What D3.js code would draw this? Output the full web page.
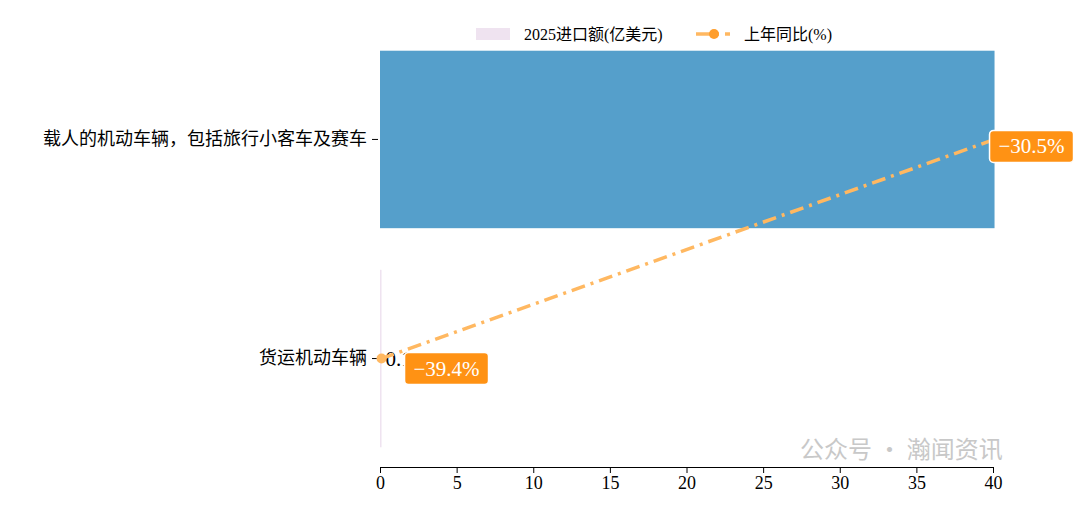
<!DOCTYPE html><html><head><meta charset="utf-8"><script src="https://cdn.jsdelivr.net/npm/d3@7"></script>
<style>body{margin:0;background:#fff}text{font-family:"Liberation Serif","Noto Sans CJK SC",serif}</style></head><body><svg id="c" width="1080" height="519"></svg><script>
const categories=["载人的机动车辆，包括旅行小客车及赛车","货运机动车辆"];
const values=[40.1,0.1];
const yoy=[-30.5,-39.4];
const valueLabels=["40.1","0.1"];
const ticks=[0,5,10,15,20,25,30,35,40];
const svg=d3.select("#c");
const x=d3.scaleLinear().domain([0,40]).range([380,993]);
const y=d3.scaleBand().domain(categories).range([31,467]).paddingInner(0.19).paddingOuter(0.09);
const colors=["#559fcb","#efe3f0"];
svg.selectAll("rect.bar").data(values).join("rect").attr("class","bar")
 .attr("x",x(0)).attr("y",(d,i)=>y(categories[i])).attr("width",d=>x(d)-x(0)).attr("height",y.bandwidth()).attr("fill",(d,i)=>colors[i]);
const xa=svg.append("g").attr("transform","translate(0,467)").call(d3.axisBottom(x).tickValues(ticks).tickSize(6));
xa.select(".domain").attr("stroke","#000");xa.selectAll("text").attr("font-size",18).attr("fill","#000");
const ya=svg.append("g").attr("transform","translate(378,0)").call(d3.axisLeft(y).tickSize(6).tickPadding(5));
ya.select(".domain").remove();ya.selectAll("text").attr("font-size",18).attr("fill","#000");
svg.selectAll("text.vl").data(values).join("text").attr("class","vl").attr("x",d=>x(d)+4).attr("y",(d,i)=>y(categories[i])+y.bandwidth()/2+7)
 .attr("font-size",(d,i)=>i==0?15:21).attr("fill",(d,i)=>i==0?"#888":"#000").text((d,i)=>valueLabels[i]);
const pts=values.map((v,i)=>[x(v),y(categories[i])+y.bandwidth()/2]);
svg.append("path").attr("d",d3.line()(pts)).attr("stroke","#ffb861").attr("stroke-width",3.5).attr("fill","none").attr("stroke-dasharray","14,6,3,6");
svg.selectAll("circle.m").data(pts).join("circle").attr("class","m").attr("cx",d=>d[0]).attr("cy",d=>d[1]).attr("r",5).attr("fill","#ffb861");
const lab=svg.selectAll("g.lab").data(yoy).join("g").attr("class","lab")
 .attr("transform",(d,i)=>`translate(${pts[i][0]+(i==0?37:65)},${pts[i][1]+(i==0?7:10)})`);
lab.append("rect").attr("x",-42).attr("y",-16).attr("width",84).attr("height",32).attr("rx",4).attr("fill","#ff9214").attr("stroke","#fff").attr("stroke-width",1.5);
lab.append("text").attr("text-anchor","middle").attr("y",7).attr("font-size",21).attr("fill","#fff").text(d=>"−"+Math.abs(d)+"%");
const lg=svg.append("g");
lg.append("rect").attr("x",476).attr("y",28).attr("width",34).attr("height",12).attr("fill","#efe3f0");
lg.append("text").attr("x",524).attr("y",40).attr("font-size",16).text("2025进口额(亿美元)");
lg.append("line").attr("x1",696).attr("x2",730).attr("y1",34).attr("y2",34).attr("stroke","#ffb861").attr("stroke-width",3.5).attr("stroke-dasharray","14,6,3,6");
lg.append("circle").attr("cx",714).attr("cy",34).attr("r",5).attr("fill","#ff9e2c");
lg.append("text").attr("x",744).attr("y",40).attr("font-size",16).text("上年同比(%)");
svg.append("text").attr("x",800).attr("y",458).attr("font-size",24).attr("fill","#bbb").attr("opacity",0.8).style("font-family","Noto Sans CJK SC").text("公众号 · 瀚闻资讯");
</script></body></html>
